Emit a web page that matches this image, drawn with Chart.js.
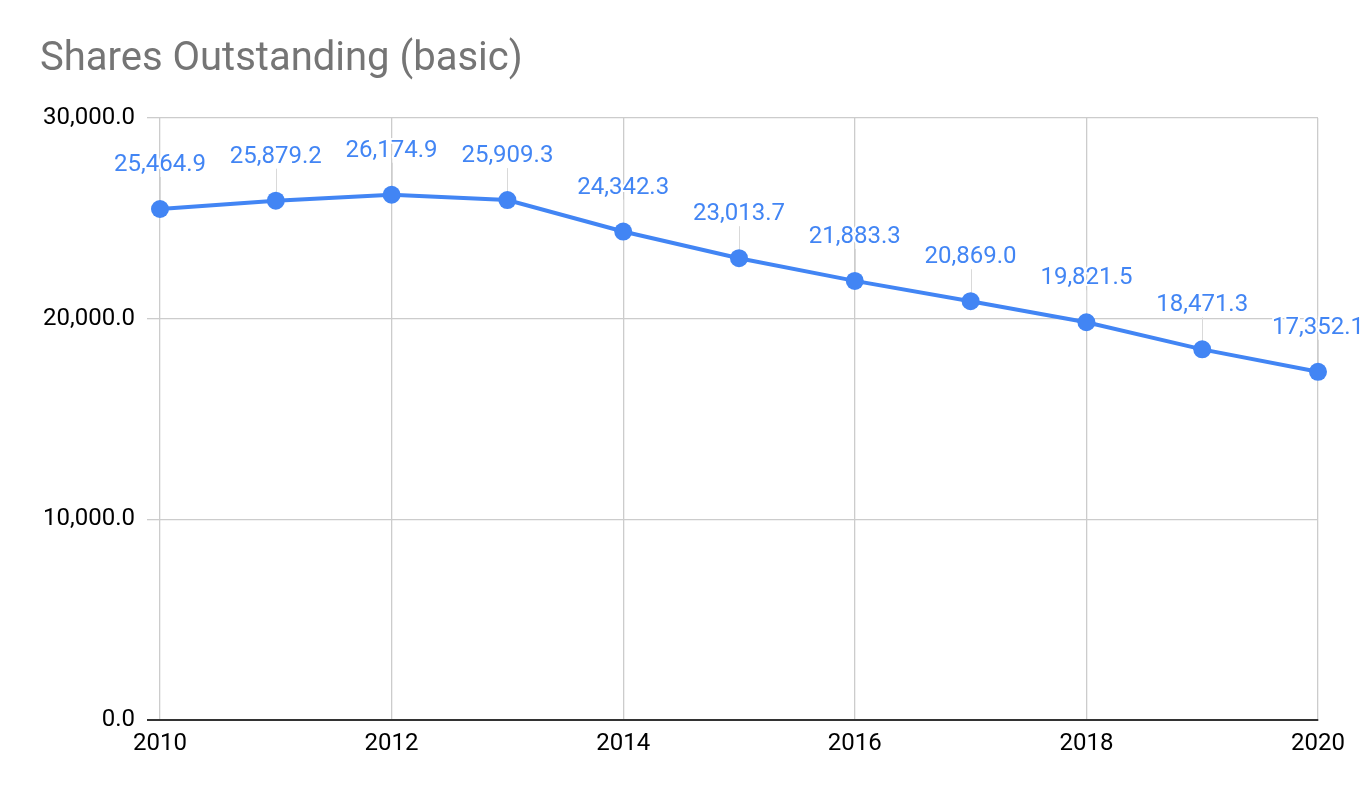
<!DOCTYPE html>
<html>
<head>
<meta charset="utf-8">
<script src="https://cdn.jsdelivr.net/npm/chart.js@4/dist/chart.umd.min.js"></script>
<style>
html,body{margin:0;padding:0;background:#fff;}
#wrap{width:1372px;height:798px;position:relative;}
</style>
</head>
<body>
<div id="wrap"><canvas id="c" width="1372" height="798"></canvas></div>
<script>
const chartTitle = "Shares Outstanding (basic)";
const years = [2010, 2011, 2012, 2013, 2014, 2015, 2016, 2017, 2018, 2019, 2020];
const shares = [25464.9, 25879.2, 26174.9, 25909.3, 24342.3, 23013.7, 21883.3, 20869.0, 19821.5, 18471.3, 17352.1];
const yTicks = [0, 10000, 20000, 30000];
const xTicks = [2010, 2012, 2014, 2016, 2018, 2020];

const BLUE = '#4285F4';
const GRID = '#cccccc';
const AXIS = '#333333';
const FONT = 'Roboto, "Liberation Sans", Arial, sans-serif';

function fmt(v){
  return v.toLocaleString('en-US',{minimumFractionDigits:1,maximumFractionDigits:1});
}

const titlePlugin = {
  id:'customTitle',
  afterDraw(chart){
    const ctx = chart.ctx;
    ctx.save();
    ctx.font = '40px ' + FONT;
    ctx.fillStyle = '#757575';
    ctx.textAlign = 'left';
    ctx.textBaseline = 'middle';
    ctx.fillText(chartTitle, 40, 60);
    ctx.restore();
  }
};

const LABEL_OFFSET = 44;
const labelPlugin = {
  id:'pointLabels',
  beforeDatasetsDraw(chart){
    const ctx = chart.ctx;
    const meta = chart.getDatasetMeta(0);
    ctx.save();
    ctx.strokeStyle = '#d9d9d9';
    ctx.lineWidth = 1;
    meta.data.forEach((pt)=>{
      const x = Math.round(pt.x)+0.5;
      ctx.beginPath();
      ctx.moveTo(x, pt.y - LABEL_OFFSET + 12);
      ctx.lineTo(x, pt.y);
      ctx.stroke();
    });
    ctx.restore();
  },
  afterDatasetsDraw(chart){
    const ctx = chart.ctx;
    const meta = chart.getDatasetMeta(0);
    const ds = chart.data.datasets[0].data;
    ctx.save();
    ctx.font = '24px ' + FONT;
    ctx.textAlign = 'center';
    ctx.textBaseline = 'middle';
    ctx.lineJoin = 'round';
    meta.data.forEach((pt,i)=>{
      const txt = fmt(ds[i].y);
      const y = pt.y - LABEL_OFFSET;
      ctx.strokeStyle = '#ffffff';
      ctx.lineWidth = 4;
      ctx.strokeText(txt, pt.x, y);
      ctx.fillStyle = BLUE;
      ctx.fillText(txt, pt.x, y);
    });
    ctx.restore();
  }
};

const points = years.map((y,i)=>({x:y, y:shares[i]}));

new Chart(document.getElementById('c'), {
  type:'line',
  data:{
    datasets:[{
      label:'Shares Outstanding (basic)',
      data:points,
      borderColor:BLUE,
      backgroundColor:BLUE,
      borderWidth:4,
      pointRadius:9,
      pointHoverRadius:9,
      pointBackgroundColor:BLUE,
      pointBorderWidth:0,
      tension:0,
      fill:false,
      clip:false
    }]
  },
  options:{
    responsive:false,
    animation:false,
    devicePixelRatio:1,
    layout:{padding:{top:118,right:54,left:0,bottom:0}},
    plugins:{legend:{display:false},title:{display:false},tooltip:{enabled:false}},
    scales:{
      x:{
        type:'linear',
        min:years[0],
        max:years[years.length-1],
        afterBuildTicks(scale){ scale.ticks = xTicks.map(v=>({value:v})); },
        afterFit(scale){ scale.height = 78; },
        grid:{color:GRID, lineWidth:1.3, drawTicks:false},
        border:{display:true, color:AXIS, width:2},
        ticks:{
          padding:10,
          color:'#000000',
          font:{family:FONT, size:24},
          callback:(v)=>String(v),
          maxRotation:0
        }
      },
      y:{
        min:0,
        max:30000,
        afterBuildTicks(scale){ scale.ticks = yTicks.map(v=>({value:v})); },
        afterFit(scale){ scale.width = 160; },
        grid:{
          color:(c)=> (c.tick && c.tick.value===0) ? AXIS : GRID,
          tickColor:(c)=> (c.tick && c.tick.value===0) ? AXIS : GRID,
          lineWidth:(c)=> (c.tick && c.tick.value===0) ? 2 : 1.3,
          drawTicks:true,
          tickLength:13
        },
        border:{display:false},
        ticks:{
          padding:12,
          color:'#000000',
          font:{family:FONT, size:24},
          callback:(v)=>fmt(v)
        }
      }
    }
  },
  plugins:[titlePlugin, labelPlugin]
});
</script>
</body>
</html>
